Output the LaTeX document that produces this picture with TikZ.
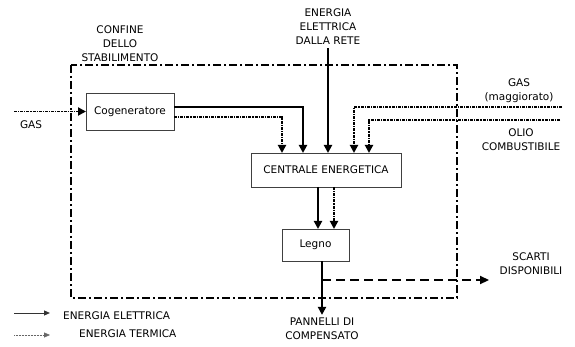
\documentclass[tikz,border=0pt]{standalone}
\usepackage{fontspec}
\setmainfont{DejaVu Sans}
\usetikzlibrary{arrows.meta}

\begin{document}
\begin{tikzpicture}[x=1pt,y=-1pt,font=\fontsize{10.5}{14}\selectfont,
    box/.style = {rectangle,draw=black!75,thin,fill=white,inner sep=0mm,outer sep=0mm},
    elet/.style = {line width=2.4pt,-{Triangle[length=8pt,width=8pt]}},
    term/.style = {line width=1.9pt,dash pattern=on 3pt off 1pt on 1.2pt off 1pt,-{Triangle[length=8pt,width=8pt]}},
    scarto/.style = {line width=2.6pt,dash pattern=on 9pt off 5pt,-{Triangle[length=9pt,width=8pt]}},
    confine/.style = {line width=1.6pt,dash pattern=on 8pt off 3pt on 2pt off 3pt},
    lbl/.style = {align=center,inner sep=0mm}]
\useasboundingbox (0,0) rectangle (575,347);
\draw[confine] (71,65) rectangle (457,298);
\node[lbl] at (120,44) {CONFINE\\DELLO\\STABILIMENTO};
\node[box,minimum width=88pt,minimum height=37pt] (cog) at (130,111.5) {Cogeneratore};
\node[box,minimum width=150pt,minimum height=34pt] (cen) at (326,170) {CENTRALE ENERGETICA};
\node[box,minimum width=67pt,minimum height=32pt] (legno) at (315.5,245) {Legno};
\node[lbl] (rete) at (328,27) {ENERGIA\\ELETTRICA\\DALLA RETE};
\node[lbl] (gasm) at (519,91) {GAS\\(maggiorato)};
\node[lbl] (olio) at (521,140) {OLIO\\COMBUSTIBILE};
\node[lbl] (gasl) at (31,125) {GAS};
\node[lbl] (scarti) at (531,264) {SCARTI\\DISPONIBILI};
\node[lbl] (pann) at (322,329) {PANNELLI DI\\COMPENSATO};
\coordinate (gasin) at (14,111.5);
\coordinate (gasout) at (562,107);
\coordinate (olioout) at (560,120);
\coordinate (bivio) at (322,280);
\coordinate (fine) at (489,280);
% ingressi
\draw[term] (gasin) -- (cog.west);
\draw[elet] ([yshift=4.5pt]cog.east) -| ([xshift=-23pt]cen.north);
\draw[term] ([yshift=-5.5pt]cog.east) -| ([xshift=-44pt]cen.north);
\draw[elet] ([yshift=-3pt]rete.south) -- (rete.south |- cen.north);
\draw[term] (gasout) -| ([xshift=28pt]cen.north);
\draw[term] (olioout) -| ([xshift=43pt]cen.north);
% uscite
\draw[elet] ([xshift=-8pt]cen.south) -- ([xshift=-8pt]cen.south |- legno.north);
\draw[term] ([xshift=8pt]cen.south) -- ([xshift=8pt]cen.south |- legno.north);
\draw[elet] ([xshift=6.5pt]legno.south) -- ([yshift=3pt]pann.north -| bivio);
\draw[scarto] (bivio) -- (fine);
% legenda
\draw[black!80,line width=1pt,-{Triangle[length=6pt,width=5pt]}] (14,313) -- (50,313);
\node[anchor=west,inner sep=0mm] at (63,316) {ENERGIA ELETTRICA};
\draw[black!60,line width=0.4pt,dash pattern=on 1pt off 0.5pt,-{Triangle[length=6pt,width=5pt]}] (14,335) -- (50,335);
\node[anchor=west,inner sep=0mm] at (79,334) {ENERGIA TERMICA};
\end{tikzpicture}
\end{document}
